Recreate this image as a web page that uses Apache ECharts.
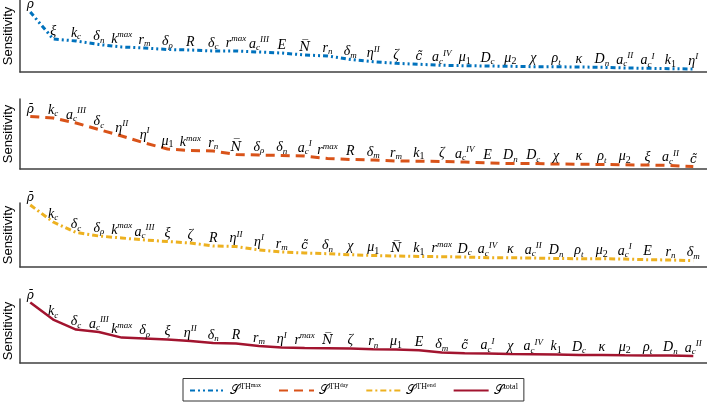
<!DOCTYPE html>
<html>
<head>
<meta charset="utf-8">
<script src="https://cdn.jsdelivr.net/npm/echarts@6/dist/echarts.min.js"></script>
<style>
html, body { margin: 0; padding: 0; background: #fff; }
#chart { width: 707px; height: 403px; }
</style>
</head>
<body>
<div id="chart"></div>
<script>
// parameter ranking for each sensitivity measure (TeX-like: base_sub^sup, ~ marks a glyph with an accent)
var namesMax = ['~ρ\u0304', 'ξ', 'k_c', 'δ_n', 'k^max', 'r_m', 'δ_ρ', 'R', 'δ_c', 'r^max', 'a_c^III', 'E', '~N\u0305', 'r_n', 'δ_m',
    'η^II', 'ζ', '~c\u0303', 'a_c^IV', 'μ_1', 'D_c', 'μ_2', 'χ', 'ρ_t', 'κ', 'D_n', 'a_c^II', 'a_c^I', 'k_1', 'η^I'];
var valsMax = [60, 33, 31, 27.5, 25, 24, 22.5, 22, 21, 21, 20, 19, 17, 16, 12.5,
    10.3, 8.7, 7.7, 6.7, 6.3, 6, 5.7, 5.3, 5.2, 5, 4.7, 4, 3.7, 3.3, 3];

var namesDay = ['~ρ\u0304', 'k_c', 'a_c^III', 'δ_c', 'η^II', 'η^I', 'μ_1', 'k^max', 'r_n', '~N\u0305', 'δ_ρ', 'δ_n', 'a_c^I', 'r^max', 'R',
    'δ_m', 'r_m', 'k_1', 'ζ', 'a_c^IV', 'E', 'D_n', 'D_c', 'χ', 'κ', 'ρ_t', 'μ_2', 'ξ', 'a_c^II', '~c\u0303'];
var valsDay = [52.5, 51, 46, 39.5, 33, 26, 20, 18.5, 18, 14.5, 14, 13.5, 13, 10.5, 9.5,
    9, 8, 7.8, 7.5, 7, 6, 5.5, 5.5, 5, 4.8, 4.5, 4.2, 4, 3.5, 2.5];

var namesEnd = ['~ρ\u0304', 'k_c', 'δ_c', 'δ_ρ', 'k^max', 'a_c^III', 'ξ', 'ζ', 'R', 'η^II', 'η^I', 'r_m', '~c\u0303', 'δ_n', 'χ',
    'μ_1', '~N\u0305', 'k_1', 'r^max', 'D_c', 'a_c^IV', 'κ', 'a_c^II', 'D_n', 'ρ_t', 'μ_2', 'a_c^I', 'E', 'r_n', 'δ_m'];
var valsEnd = [62, 45, 34.5, 31, 29, 27, 25.5, 24, 21, 20.5, 17, 15, 14, 13.3, 12.3,
    11.5, 11, 10.5, 10.3, 10, 9.3, 9.2, 9, 8.5, 8.3, 8.2, 8, 7.3, 7, 6.3];

var namesTotal = ['~ρ\u0304', 'k_c', 'δ_c', 'a_c^III', 'k^max', 'δ_ρ', 'ξ', 'η^II', 'δ_n', 'R', 'r_m', 'η^I', 'r^max', '~N\u0305', 'ζ',
    'r_n', 'μ_1', 'E', 'δ_m', '~c\u0303', 'a_c^I', 'χ', 'a_c^IV', 'k_1', 'D_c', 'κ', 'μ_2', 'ρ_t', 'D_n', 'a_c^II'];
var valsTotal = [60.4, 43.4, 33.4, 31, 25.4, 24.4, 23.4, 22, 20, 19.4, 17, 15.4, 15, 14.7, 14.4,
    13.7, 13.4, 12.7, 10.4, 9.7, 9.4, 9, 8.7, 8.4, 8, 8, 7.7, 7.6, 7.4, 7];

var legendNames = ['max', 'day', 'end', 'total'];

var myChart = echarts.init(document.getElementById('chart'));

var panels = [
    { names: namesMax, vals: valsMax, color: '#0072BD', dash: [5, 3, 2, 3, 2, 3], width: 3, top: 0, height: 72 },
    { names: namesDay, vals: valsDay, color: '#D95319', dash: [9, 6], width: 3, top: 99, height: 70 },
    { names: namesEnd, vals: valsEnd, color: '#EDB120', dash: [6, 3, 2, 3], width: 3, top: 203, height: 64 },
    { names: namesTotal, vals: valsTotal, color: '#A2142F', dash: 'solid', width: 2.5, top: 299, height: 64 }
];

// turn "a_c^III" into rich text pieces
function texLabel(s) {
    var acc = s.charAt(0) === '~';
    if (acc) s = s.slice(1);
    var m = s.match(/^([^_^]+)(?:_([^_^]+))?(?:\^(.+))?$/);
    var out = '{' + (acc ? 'ba' : 'b') + '|' + m[1] + '}';
    if (m[2]) out += (/\d/.test(m[2]) ? '{sn|' : '{sb|') + m[2] + '}';
    if (m[3]) out += '{sp|' + m[3] + '}';
    return out;
}

var serif = 'Liberation Serif';
var labelRich = {
    b: { fontFamily: serif, fontStyle: 'italic', fontSize: 14, lineHeight: 17, color: '#000' },
    ba: { fontFamily: 'DejaVu Serif', fontStyle: 'italic', fontSize: 12, lineHeight: 15, color: '#000' },
    sb: { fontFamily: serif, fontStyle: 'italic', fontSize: 9, lineHeight: 9, verticalAlign: 'bottom', color: '#000' },
    sn: { fontFamily: serif, fontSize: 10, lineHeight: 10, verticalAlign: 'bottom', color: '#000' },
    sp: { fontFamily: serif, fontStyle: 'italic', fontSize: 9, lineHeight: 9, verticalAlign: 'top', color: '#000' }
};

var grid = [], xAxis = [], yAxis = [], series = [];
panels.forEach(function (p, k) {
    grid.push({ left: 20, right: 0, top: p.top, height: p.height, outerBoundsMode: 'none', containLabel: false });
    xAxis.push({
        type: 'value', gridIndex: k, min: -0.45, max: 29.6,
        axisLine: { show: true, onZero: false, lineStyle: { color: '#404040', width: 1.5 } },
        axisTick: { show: false }, axisLabel: { show: false }, splitLine: { show: false }
    });
    yAxis.push({
        type: 'value', gridIndex: k, min: 0, max: p.height,
        name: 'Sensitivity', nameLocation: 'middle', nameGap: 5,
        nameTextStyle: { fontFamily: 'Liberation Sans', fontSize: 13, color: '#000' },
        axisLine: { show: true, onZero: false, lineStyle: { color: '#404040', width: 1.5 } },
        axisTick: { show: false }, axisLabel: { show: false }, splitLine: { show: false }
    });
    series.push({
        name: legendNames[k],
        type: 'line',
        xAxisIndex: k, yAxisIndex: k,
        data: p.vals.map(function (v, i) { return [i, v]; }),
        symbol: 'circle', symbolSize: 1,
        itemStyle: { color: 'rgba(0,0,0,0)' },
        lineStyle: { color: p.color, width: p.width, type: p.dash },
        label: {
            show: true, position: 'top', distance: -1,
            formatter: (function (names) {
                return function (d) { return texLabel(names[d.dataIndex]); };
            })(p.names),
            rich: labelRich
        }
    });
});

var option = {
    animation: false,
    grid: grid,
    xAxis: xAxis,
    yAxis: yAxis,
    legend: {
        data: legendNames,
        left: 183, bottom: 2,
        itemWidth: 35, itemHeight: 10, itemGap: 17,
        padding: [4, 6],
        borderColor: '#333', borderWidth: 1,
        formatter: function (n) {
            if (n === 'total') return '{s|𝒮}{t|total}';
            return '{s|𝒮}{t|TH}{u|' + n + '}';
        },
        textStyle: {
            rich: {
                s: { fontFamily: serif, fontSize: 13, lineHeight: 16, color: '#000' },
                t: { fontFamily: serif, fontSize: 8, lineHeight: 8, verticalAlign: 'top', color: '#000' },
                u: { fontFamily: serif, fontSize: 6, lineHeight: 10, verticalAlign: 'top', color: '#000' }
            }
        }
    },
    series: series
};

myChart.setOption(option);
</script>
</body>
</html>
